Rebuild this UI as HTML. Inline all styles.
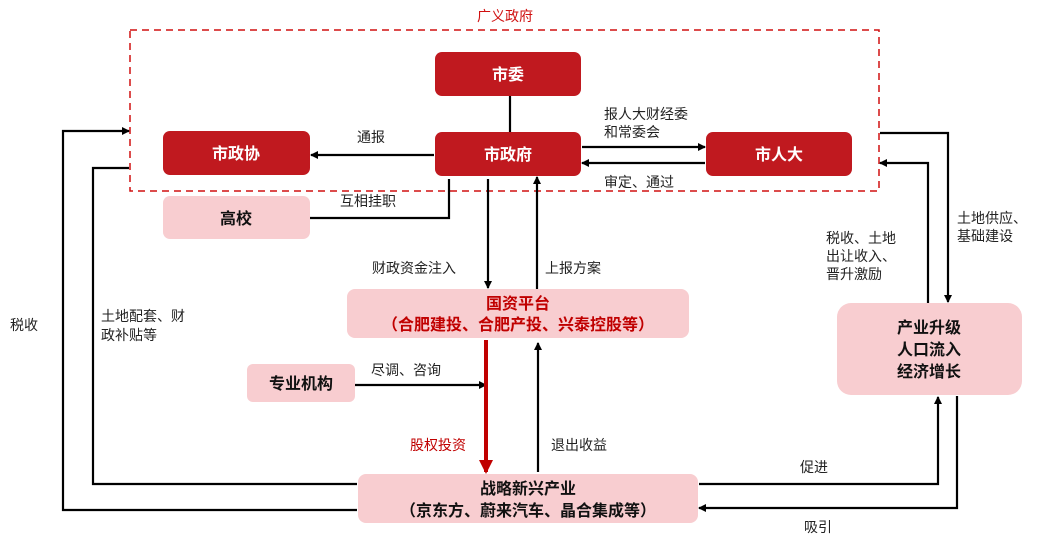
<!DOCTYPE html>
<html><head><meta charset="utf-8"><style>
body{margin:0;background:#fff;}
svg{display:block;font-family:"Liberation Sans","Noto Sans CJK SC",sans-serif;}
.t{font-size:14px;fill:#222;}
.w{font-size:16px;font-weight:bold;fill:#fff;text-anchor:middle;}
.b{font-size:16px;font-weight:bold;fill:#111;text-anchor:middle;}
.r{font-size:16px;font-weight:bold;fill:#c00000;text-anchor:middle;}
.ln{stroke:#000;stroke-width:2.2;fill:none;}
</style></head><body>
<svg width="1044" height="545" viewBox="0 0 1044 545">
<defs>
<marker id="a" markerWidth="8" markerHeight="8" refX="7" refY="4" orient="auto" markerUnits="userSpaceOnUse"><path d="M0,0 L8,4 L0,8 z" fill="#000"/></marker>
<marker id="ar" markerWidth="14" markerHeight="14" refX="12" refY="7" orient="auto" markerUnits="userSpaceOnUse"><path d="M0,0 L14,7 L0,14 z" fill="#c00000"/></marker>
</defs>
<text x="505" y="21" font-size="14" fill="#d01010" text-anchor="middle">广义政府</text>
<rect x="130" y="30" width="749" height="161" fill="none" stroke="#d01010" stroke-width="1.5" stroke-dasharray="7,5"/>

<rect x="435" y="52" width="146" height="44" rx="7" fill="#c0191f"/><text class="w" x="508" y="80">市委</text>
<rect x="163" y="131" width="147" height="44" rx="7" fill="#c0191f"/><text class="w" x="236" y="159">市政协</text>
<rect x="435" y="132" width="146" height="44" rx="7" fill="#c0191f"/><text class="w" x="508" y="160">市政府</text>
<rect x="706" y="132" width="146" height="44" rx="7" fill="#c0191f"/><text class="w" x="779" y="160">市人大</text>
<rect x="163" y="196" width="147" height="43" rx="7" fill="#f8cdd0"/><text class="b" x="236" y="224">高校</text>
<rect x="347" y="289" width="342" height="49" rx="8" fill="#f8cdd0"/>
<text class="r" x="518" y="309">国资平台</text><text class="r" x="518" y="330">（合肥建投、合肥产投、兴泰控股等）</text>
<rect x="247" y="364" width="108" height="38" rx="6" fill="#f8cdd0"/><text class="b" x="301" y="389">专业机构</text>
<rect x="358" y="474" width="340" height="49" rx="8" fill="#f8cdd0"/>
<text class="b" x="528" y="494">战略新兴产业</text><text class="b" x="528" y="516">（京东方、蔚来汽车、晶合集成等）</text>
<rect x="837" y="303" width="185" height="92" rx="14" fill="#f8cdd0"/>
<text class="b" x="929" y="333">产业升级</text><text class="b" x="929" y="355">人口流入</text><text class="b" x="929" y="377">经济增长</text>

<line class="ln" x1="510" y1="96" x2="510" y2="132"/>
<line class="ln" x1="434" y1="155" x2="311" y2="155" marker-end="url(#a)"/>
<text class="t" x="357" y="142">通报</text>
<line class="ln" x1="582" y1="147" x2="705" y2="147" marker-end="url(#a)"/>
<line class="ln" x1="705" y1="163" x2="582" y2="163" marker-end="url(#a)"/>
<text class="t" x="604" y="119">报人大财经委</text><text class="t" x="604" y="137">和常委会</text>
<text class="t" x="604" y="187">审定、通过</text>
<polyline class="ln" points="449,179 449,218 310,218"/>
<text class="t" x="340" y="206">互相挂职</text>
<line class="ln" x1="488" y1="179" x2="488" y2="288" marker-end="url(#a)"/>
<text class="t" x="372" y="273">财政资金注入</text>
<line class="ln" x1="537" y1="289" x2="537" y2="177" marker-end="url(#a)"/>
<text class="t" x="545" y="273">上报方案</text>
<line class="ln" x1="355" y1="385" x2="486" y2="385" marker-end="url(#a)"/>
<text class="t" x="371" y="375">尽调、咨询</text>
<line x1="486" y1="340" x2="486" y2="472" stroke="#c00000" stroke-width="4" marker-end="url(#ar)"/>
<text x="410" y="450" font-size="14" fill="#c00000">股权投资</text>
<line class="ln" x1="538" y1="472" x2="538" y2="343" marker-end="url(#a)"/>
<text class="t" x="551" y="450">退出收益</text>
<polyline class="ln" points="699,484 938,484 938,397" marker-end="url(#a)"/>
<text class="t" x="800" y="472">促进</text>
<polyline class="ln" points="957,396 957,508 699,508" marker-end="url(#a)"/>
<text class="t" x="804" y="532">吸引</text>
<polyline class="ln" points="880,133 948,133 948,302" marker-end="url(#a)"/>
<polyline class="ln" points="928,303 928,163 880,163" marker-end="url(#a)"/>
<text class="t" x="826" y="243">税收、土地</text><text class="t" x="826" y="261">出让收入、</text><text class="t" x="826" y="279">晋升激励</text>
<text class="t" x="957" y="223">土地供应、</text><text class="t" x="957" y="241">基础建设</text>
<polyline class="ln" points="357,510 63,510 63,131 129,131" marker-end="url(#a)"/>
<text class="t" x="10" y="330">税收</text>
<polyline class="ln" points="357,484 93,484 93,168 129,168"/>
<text class="t" x="101" y="321">土地配套、财</text><text class="t" x="101" y="340">政补贴等</text>
</svg>
</body></html>
